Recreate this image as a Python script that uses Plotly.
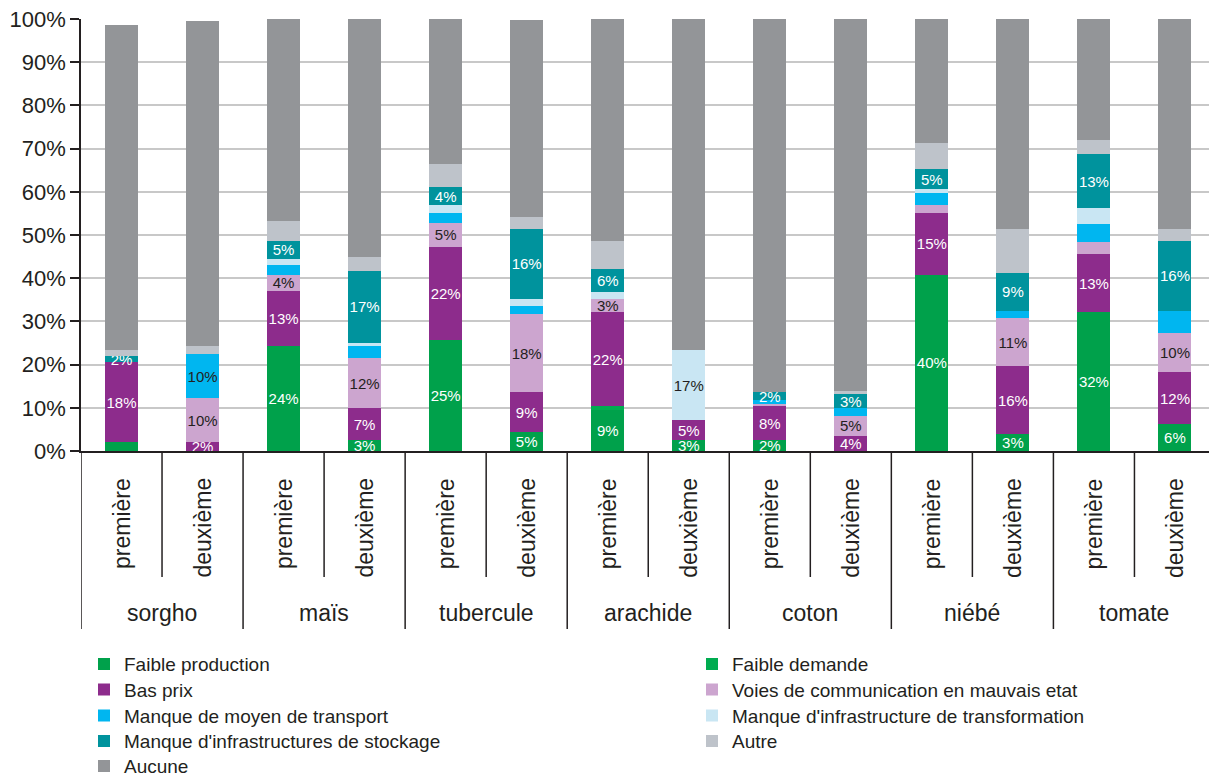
import plotly.graph_objects as go

# ---------------- data ----------------
crops = ["sorgho", "maïs", "tubercule", "arachide", "coton", "niébé", "tomate"]
ranks = ["première", "deuxième"]
y_tick_values = [0, 10, 20, 30, 40, 50, 60, 70, 80, 90, 100]
y_tick_labels = ["0%", "10%", "20%", "30%", "40%", "50%", "60%", "70%", "80%", "90%", "100%"]

# order of bars: sorgho P, sorgho D, maïs P, maïs D, tubercule P, tubercule D, arachide P, arachide D,
#                coton P, coton D, niébé P, niébé D, tomate P, tomate D
faible_production = [2.1, 0, 24.2, 2.5, 25.6, 4.4, 9.6, 2.5, 2.5, 0, 40.8, 3.9, 32.1, 6.2]
faible_demande = [0, 0, 0, 0, 0, 0, 0.8, 0, 0, 0, 0, 0, 0, 0]
bas_prix = [18.4, 2.1, 12.9, 7.4, 21.7, 9.2, 21.7, 4.7, 7.9, 3.5, 14.3, 15.7, 13.4, 12.0]
voies = [0, 10.1, 3.7, 11.6, 5.5, 18.0, 3.2, 0, 0.5, 4.6, 1.8, 11.1, 2.8, 9.2]
transport = [0, 10.2, 2.3, 2.7, 2.3, 1.9, 0, 0, 0.9, 1.8, 2.8, 1.8, 4.2, 5.1]
transformation = [0, 0, 1.4, 0.9, 1.8, 1.8, 1.4, 16.1, 0, 0, 0.9, 0, 3.7, 0]
stockage = [1.4, 0, 4.2, 16.6, 4.2, 16.2, 5.5, 0, 1.8, 3.2, 4.6, 8.8, 12.5, 16.2]
autre = [1.4, 1.9, 4.6, 3.2, 5.3, 2.7, 6.5, 0, 0, 0.9, 6.0, 10.2, 3.2, 2.8]
aucune = [75.2, 75.3, 46.7, 55.1, 33.6, 45.6, 51.3, 76.7, 86.4, 86.0, 28.8, 48.5, 28.1, 48.5]

lbl_production = ["", "", "24%", "3%", "25%", "5%", "9%", "3%", "2%", "", "40%", "3%", "32%", "6%"]
lbl_demande = [""] * 14
lbl_bas_prix = ["18%", "2%", "13%", "7%", "22%", "9%", "22%", "5%", "8%", "4%", "15%", "16%", "13%", "12%"]
lbl_voies = ["", "10%", "4%", "12%", "5%", "18%", "3%", "", "", "5%", "", "11%", "", "10%"]
lbl_transport = ["", "10%", "", "", "", "", "", "", "", "", "", "", "", ""]
lbl_transformation = ["", "", "", "", "", "", "", "17%", "", "", "", "", "", ""]
lbl_stockage = ["2%", "", "5%", "17%", "4%", "16%", "6%", "", "2%", "3%", "5%", "9%", "13%", "16%"]
lbl_autre = [""] * 14
lbl_aucune = [""] * 14

# ---------------- style ----------------
FONT = "Liberation Sans, Arial, Helvetica, sans-serif"
DARK = "#231F20"
WHITE = "#FFFFFF"

bar_keys = [f"{c}|{r}" for c in crops for r in ranks]

series = [
    # name, values, labels, color, text color, column, row
    ("Faible production", faible_production, lbl_production, "#00A14B", WHITE, 0, 0),
    ("Faible demande", faible_demande, lbl_demande, "#00AC50", WHITE, 1, 0),
    ("Bas prix", bas_prix, lbl_bas_prix, "#8D2C8C", WHITE, 0, 1),
    ("Voies de communication en mauvais etat", voies, lbl_voies, "#CCA5CF", DARK, 1, 1),
    ("Manque de moyen de transport", transport, lbl_transport, "#00B6F0", DARK, 0, 2),
    ("Manque d'infrastructure de transformation", transformation, lbl_transformation, "#C9E6F3", DARK, 1, 2),
    ("Manque d'infrastructures de stockage", stockage, lbl_stockage, "#00939D", WHITE, 0, 3),
    ("Autre", autre, lbl_autre, "#BEC3CA", DARK, 1, 3),
    ("Aucune", aucune, lbl_aucune, "#939598", DARK, 0, 4),
]

W, H = 1209, 776
M_L, M_T, M_B = 81, 19, 325

fig = go.Figure()
legend_layouts = {}
row_centers = [664, 689.5, 715.5, 741, 766]
legend_x_px = [84, 692]
for k, (name, vals, lbls, color, tcolor, col, row) in enumerate(series):
    lid = "legend" if k == 0 else f"legend{k + 1}"
    fig.add_trace(go.Bar(
        x=bar_keys, y=vals, name=name, text=lbls,
        marker=dict(color=color, line=dict(width=0)),
        textposition="inside", insidetextanchor="middle", textangle=0,
        constraintext="none",
        textfont=dict(family=FONT, size=15, color=tcolor),
        legend=lid,
    ))
    item_h = 19 * 1.3 + 3
    top_px = row_centers[row] - 5 - item_h / 2
    legend_layouts[lid] = dict(
        x=legend_x_px[col] / W, y=1 - top_px / H,
        xref="container", yref="container",
        xanchor="left", yanchor="top",
        bgcolor="rgba(0,0,0,0)", borderwidth=0,
        font=dict(family=FONT, size=19, color=DARK),
    )

# category divider lines below the axis
shapes = []
for b in range(len(bar_keys) + 1):
    group_edge = (b % 2 == 0)
    shapes.append(dict(
        type="line", xref="x", yref="paper", ysizemode="pixel", yanchor=0,
        x0=b - 0.5, x1=b - 0.5, y0=0, y1=-178 if group_edge else -126,
        line=dict(color=DARK, width=1.5),
    ))

annotations = []
for i, key in enumerate(bar_keys):
    rank = key.split("|")[1]
    annotations.append(dict(
        x=i, y=0, xref="x", yref="paper", yshift=-25,
        text=rank, textangle=-90, showarrow=False,
        xanchor="center", yanchor="top",
        font=dict(family=FONT, size=23, color=DARK),
    ))
for g, crop in enumerate(crops):
    annotations.append(dict(
        x=2 * g + 0.5, y=0, xref="x", yref="paper", yshift=-162,
        text=crop, showarrow=False, xanchor="center", yanchor="middle",
        font=dict(family=FONT, size=23, color=DARK),
    ))

fig.update_layout(
    width=W, height=H,
    margin=dict(l=M_L, r=0, t=M_T, b=M_B, autoexpand=False),
    barmode="stack", bargap=0.593,
    paper_bgcolor="white", plot_bgcolor="white",
    font=dict(family=FONT, color=DARK),
    uniformtext=dict(mode="show", minsize=15),
    shapes=shapes, annotations=annotations,
    showlegend=True,
    **legend_layouts,
)
fig.update_xaxes(
    type="category", categoryorder="array", categoryarray=bar_keys,
    range=[-0.5, 13.42], showticklabels=False, ticks="",
    showline=True, linecolor=DARK, linewidth=1.5, showgrid=False, zeroline=False,
)
fig.update_yaxes(
    range=[0, 100], tickvals=y_tick_values, ticktext=y_tick_labels,
    ticks="outside", ticklen=9, tickcolor=DARK, tickwidth=1.5,
    showline=True, linecolor=DARK, linewidth=1.5,
    showgrid=True, gridcolor="#C8C8C8", gridwidth=1.5, zeroline=False,
    tickfont=dict(family=FONT, size=22, color=DARK),
)

fig.write_html(
    "out.html",
    config={"displayModeBar": False},
    post_script="document.body.style.margin='0';document.body.style.overflow='hidden';",
)
